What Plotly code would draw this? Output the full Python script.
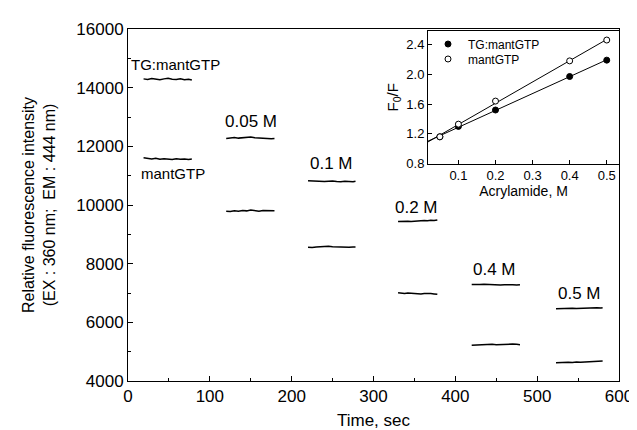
import plotly.graph_objects as go
import numpy as np

# ---------------- main panel data ----------------
seg_labels = ["TG:mantGTP / mantGTP", "0.05 M", "0.1 M", "0.2 M", "0.4 M", "0.5 M"]

seg_times = [
    [19, 24, 29, 34, 39, 44, 49, 54, 59, 64, 69, 74, 78],
    [120, 125, 130, 135, 140, 145, 150, 155, 160, 165, 170, 175, 179],
    [220, 225, 230, 235, 240, 245, 250, 255, 260, 265, 270, 275, 278],
    [330, 334, 338, 342, 346, 350, 354, 358, 362, 366, 370, 374, 378],
    [420, 425, 430, 435, 440, 445, 450, 455, 460, 465, 470, 475, 479],
    [523, 528, 533, 538, 543, 548, 553, 558, 563, 568, 573, 578, 580],
]

tg_values = [
    [14300, 14280, 14310, 14290, 14270, 14300, 14320, 14290, 14280, 14300, 14270, 14290, 14260],
    [12270, 12290, 12300, 12280, 12290, 12310, 12320, 12290, 12280, 12270, 12280, 12260, 12270],
    [10830, 10820, 10810, 10820, 10800, 10810, 10820, 10800, 10790, 10810, 10800, 10790, 10810],
    [9440, 9450, 9440, 9450, 9440, 9450, 9460, 9450, 9470, 9460, 9480, 9470, 9490],
    [7290, 7280, 7290, 7300, 7290, 7280, 7290, 7270, 7280, 7290, 7280, 7270, 7280],
    [6460, 6470, 6460, 6470, 6480, 6470, 6480, 6490, 6480, 6490, 6500, 6490, 6500],
]

mant_values = [
    [11610, 11580, 11570, 11590, 11560, 11580, 11570, 11550, 11580, 11560, 11570, 11550, 11570],
    [9790, 9780, 9800, 9790, 9810, 9800, 9830, 9800, 9790, 9810, 9800, 9790, 9800],
    [8560, 8550, 8570, 8580, 8570, 8590, 8580, 8570, 8580, 8570, 8560, 8570, 8570],
    [7010, 6990, 6980, 7000, 6990, 6980, 6990, 6970, 6980, 6990, 6980, 6970, 6960],
    [5220, 5230, 5240, 5230, 5240, 5250, 5240, 5250, 5240, 5250, 5260, 5250, 5240],
    [4620, 4630, 4620, 4640, 4630, 4650, 4640, 4650, 4660, 4650, 4670, 4690, 4680],
]

# text labels in the main panel: (text, time, intensity, font size)
main_labels = [
    ("TG:mantGTP", 58, 14780, 15),
    ("mantGTP", 54.5, 11060, 15),
    ("0.05 M", 150, 12850, 17),
    ("0.1 M", 249, 11400, 17),
    ("0.2 M", 353, 9900, 17),
    ("0.4 M", 448, 7800, 17),
    ("0.5 M", 551.5, 6980, 17),
]

# ---------------- inset data ----------------
acrylamide = [0.05, 0.1, 0.2, 0.4, 0.5]
f0f_tg = [1.16, 1.30, 1.52, 1.97, 2.19]
f0f_mant = [1.16, 1.33, 1.64, 2.18, 2.46]

inset_xrange = [0.018, 0.533]
inset_yrange = [0.8, 2.58]

FONT = "Arial, Liberation Sans, Helvetica, sans-serif"


def join_segments(times, values):
    xs, ys = [], []
    for t, v in zip(times, values):
        xs += list(t) + [None]
        ys += list(v) + [None]
    return xs, ys


fig = go.Figure()

x_tg, y_tg = join_segments(seg_times, tg_values)
x_m, y_m = join_segments(seg_times, mant_values)

fig.add_trace(go.Scatter(x=x_tg, y=y_tg, mode="lines", line=dict(color="black", width=1.5),
                         showlegend=False, name="TG:mantGTP", xaxis="x", yaxis="y"))
fig.add_trace(go.Scatter(x=x_m, y=y_m, mode="lines", line=dict(color="black", width=1.5),
                         showlegend=False, name="mantGTP", xaxis="x", yaxis="y"))

# inset fit lines (linear regression)
for yy in (f0f_tg, f0f_mant):
    slope, icpt = np.polyfit(acrylamide, yy, 1)
    xl = np.array([inset_xrange[0], max(acrylamide)])
    fig.add_trace(go.Scatter(x=xl, y=slope * xl + icpt, mode="lines",
                             line=dict(color="black", width=1), showlegend=False,
                             xaxis="x2", yaxis="y2", hoverinfo="skip"))

fig.add_trace(go.Scatter(x=acrylamide, y=f0f_tg, mode="markers", name="TG:mantGTP",
                         marker=dict(symbol="circle", size=6, color="black",
                                     line=dict(color="black", width=1)),
                         xaxis="x2", yaxis="y2", legend="legend"))
fig.add_trace(go.Scatter(x=acrylamide, y=f0f_mant, mode="markers", name="mantGTP",
                         marker=dict(symbol="circle", size=6, color="white",
                                     line=dict(color="black", width=1)),
                         xaxis="x2", yaxis="y2", legend="legend2"))

for text, tx, ty, fs in main_labels:
    fig.add_annotation(x=tx, y=ty, xref="x", yref="y", text=text, showarrow=False,
                       font=dict(size=fs, color="black", family=FONT))

axis_common = dict(showline=True, linecolor="black", linewidth=1, mirror=True,
                   showgrid=False, zeroline=False, ticks="inside", tickcolor="black")

legend_common = dict(xanchor="left", yanchor="top", bgcolor="rgba(0,0,0,0)",
                     font=dict(size=12, family=FONT, color="black"), itemwidth=30)

fig.update_layout(
    width=637, height=430,
    margin=dict(l=120, r=16, t=20, b=57),
    paper_bgcolor="white", plot_bgcolor="white",
    font=dict(family=FONT, color="black"),
    xaxis=dict(domain=[0, 1], range=[0, 600], dtick=100, tick0=0, ticklen=5,
               minor=dict(dtick=50, ticks="inside", ticklen=3, tickcolor="black"),
               tickfont=dict(size=17), title=dict(text="Time, sec", font=dict(size=17), standoff=8),
               anchor="y", **axis_common),
    yaxis=dict(domain=[0, 1], range=[4000, 16000], dtick=2000, tick0=4000, ticklen=5,
               tickformat="d",
               minor=dict(dtick=1000, ticks="inside", ticklen=3, tickcolor="black"),
               tickfont=dict(size=17),
               title=dict(text="Relative fluorescence intensity<br>(EX : 360 nm;  EM : 444 nm)",
                          font=dict(size=16), standoff=16),
               anchor="x", **axis_common),
    xaxis2=dict(domain=[0.611, 1.0], range=inset_xrange, tickvals=[0.1, 0.2, 0.3, 0.4, 0.5],
                ticklen=4, tickfont=dict(size=13),
                title=dict(text="Acrylamide, M", font=dict(size=14), standoff=1),
                anchor="y2", **axis_common),
    yaxis2=dict(domain=[0.6176, 0.994], range=inset_yrange, tickvals=[0.8, 1.2, 1.6, 2.0, 2.4],
                tickformat=".1f", ticklen=4, tickfont=dict(size=13),
                title=dict(text="F<sub>0</sub>/F", font=dict(size=15), standoff=4),
                anchor="x2", **axis_common),
    legend=dict(x=0.611, y=0.9985, **legend_common),
    legend2=dict(x=0.611, y=0.956, **legend_common),
)

fig.write_html("out.html")
